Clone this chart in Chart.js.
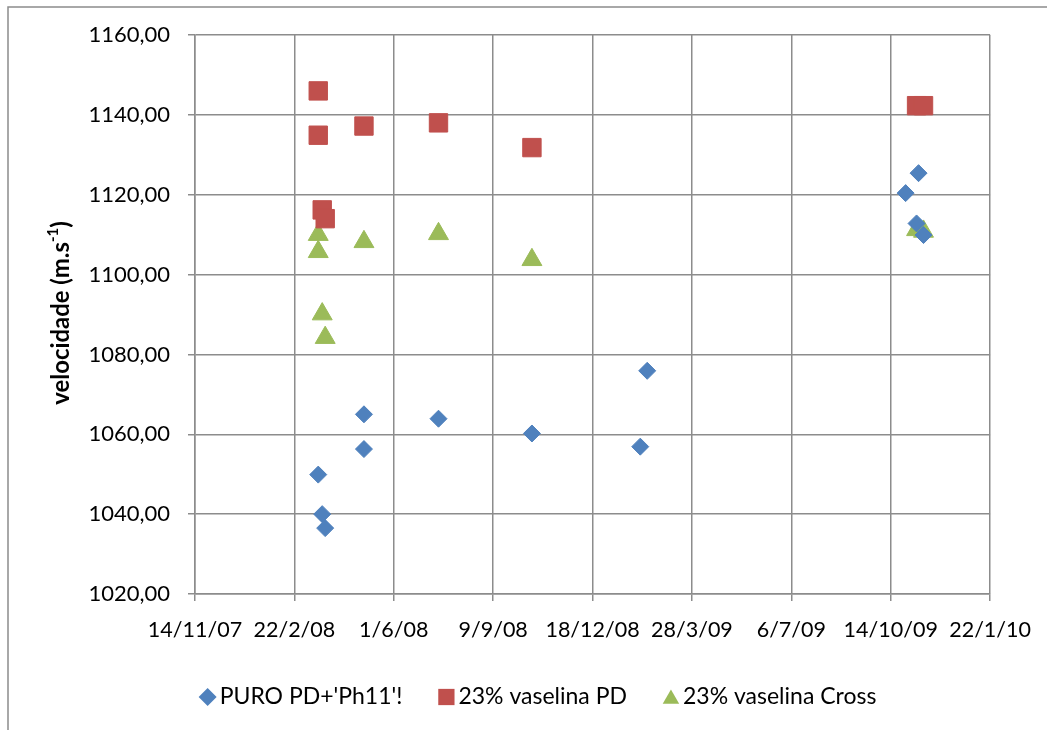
<!DOCTYPE html>
<html>
<head>
<meta charset="utf-8">
<script src="https://cdn.jsdelivr.net/npm/chart.js@4.4.1/dist/chart.umd.min.js"></script>
<style>
  html, body { margin: 0; padding: 0; background: #fff; }
  #wrap { width: 1047px; height: 730px; position: relative; }
</style>
</head>
<body>
<div id="wrap"><canvas id="chart"></canvas></div>
<script>
// dates are Excel serial day numbers (39400 = 14/11/07)
const seriesNames = ["PURO PD+'Ph11'!", "23% vaselina PD", "23% vaselina Cross"];

const puroDates = [39524, 39528, 39531, 39570, 39570, 39645, 39739, 39848, 39855, 40115, 40128, 40126, 40133];
const puroValues = [1049.9, 1040.0, 1036.5, 1065.0, 1056.3, 1063.9, 1060.2, 1056.9, 1075.9, 1120.4, 1125.4, 1112.8, 1109.9];

const vasPdDates = [39524, 39524, 39528, 39531, 39570, 39645, 39739, 40126, 40133];
const vasPdValues = [1146.0, 1134.9, 1116.2, 1114.0, 1137.2, 1138.0, 1131.8, 1142.3, 1142.3];

const vasCrossDates = [39524, 39524, 39528, 39531, 39570, 39645, 39739, 40126, 40133];
const vasCrossValues = [1110.0, 1105.7, 1090.1, 1084.2, 1108.2, 1110.2, 1103.7, 1111.2, 1110.8];

const xTicks = [39400, 39500, 39600, 39700, 39800, 39900, 40000, 40100, 40200];
const yTicks = [1020, 1040, 1060, 1080, 1100, 1120, 1140, 1160];

const FONT = "Lato, 'Liberation Sans', sans-serif";
const GRID = '#8c8c8c';

function toPoints(xs, ys) {
  return xs.map((x, i) => ({ x: x, y: ys[i] }));
}

function serialToLabel(serial) {
  const d = new Date(Date.UTC(1899, 11, 30) + serial * 86400000);
  const yy = String(d.getUTCFullYear() % 100).padStart(2, '0');
  return d.getUTCDate() + '/' + (d.getUTCMonth() + 1) + '/' + yy;
}

// legend markers are a bit smaller than the plot markers
const legendMarkers = [
  { style: 'rectRot', radius: 9 },
  { style: 'rect', radius: 11.5 },
  { style: 'triangle', radius: 9.5 }
];

// outer frame, rotated y title (with superscript) and the legend row
const decorations = {
  id: 'decorations',
  beforeDraw(chart) {
    const ctx = chart.ctx;
    ctx.save();
    ctx.fillStyle = '#fff';
    ctx.fillRect(0, 0, chart.width, chart.height);
    ctx.strokeStyle = GRID;
    ctx.lineWidth = 1.5;
    ctx.strokeRect(8, 7, 1200, 900);
    ctx.restore();
  },
  afterDraw(chart) {
    const ctx = chart.ctx;

    // y title, sized to the length it has in the original
    ctx.save();
    ctx.translate(61, 313);
    ctx.rotate(-Math.PI / 2);
    ctx.fillStyle = '#000';
    ctx.textBaseline = 'middle';
    const a = 'velocidade (m.s', b = '-1', c = ')';
    const measure = (size) => {
      ctx.font = 'bold ' + size + 'px ' + FONT;
      const wa = ctx.measureText(a).width, wc = ctx.measureText(c).width;
      ctx.font = 'bold ' + Math.round(size * 0.62) + 'px ' + FONT;
      const wb = ctx.measureText(b).width;
      return { wa, wb, wc, total: wa + wb + wc };
    };
    const size = 20 * 183 / measure(20).total;
    const m = measure(size);
    let x = -m.total / 2;
    ctx.font = 'bold ' + size + 'px ' + FONT;
    ctx.fillText(a, x, 0);
    x += m.wa;
    ctx.font = 'bold ' + Math.round(size * 0.62) + 'px ' + FONT;
    ctx.fillText(b, x, -size * 0.33);
    x += m.wb;
    ctx.font = 'bold ' + size + 'px ' + FONT;
    ctx.fillText(c, x, 0);
    ctx.restore();

    // legend
    ctx.save();
    ctx.font = '23px ' + FONT;
    ctx.textBaseline = 'middle';
    const ds = chart.data.datasets;
    const gapText = 12, gapItem = 44, lead = 9;
    const widths = ds.map(d => ctx.measureText(d.label).width);
    let total = lead;
    widths.forEach((w, i) => { total += gapText + w + (i < widths.length - 1 ? gapItem : 0); });
    let cx = 537.5 - total / 2 + lead;
    const y = 697;
    ds.forEach((d, i) => {
      ctx.fillStyle = d.backgroundColor;
      ctx.strokeStyle = d.borderColor;
      Chart.helpers.drawPoint(ctx, {
        pointStyle: legendMarkers[i].style,
        radius: legendMarkers[i].radius,
        rotation: 0,
        borderWidth: 0
      }, cx, legendMarkers[i].style === 'triangle' ? y + 2 : y);
      ctx.fillStyle = '#000';
      ctx.fillText(d.label, cx + gapText, y);
      cx += gapText + widths[i] + gapItem;
    });
    ctx.restore();
  }
};

new Chart(document.getElementById('chart'), {
  type: 'scatter',
  data: {
    datasets: [
      {
        label: seriesNames[0],
        data: toPoints(puroDates, puroValues),
        pointStyle: 'rectRot',
        pointRadius: 8.5,
        backgroundColor: '#4f81bd',
        borderColor: '#4f81bd',
        borderWidth: 1
      },
      {
        label: seriesNames[1],
        data: toPoints(vasPdDates, vasPdValues),
        pointStyle: 'rect',
        pointRadius: 13,
        backgroundColor: '#c0504d',
        borderColor: '#c0504d',
        borderWidth: 1
      },
      {
        label: seriesNames[2],
        data: toPoints(vasCrossDates, vasCrossValues),
        pointStyle: 'triangle',
        pointRadius: 11.5,
        backgroundColor: '#9bbb59',
        borderColor: '#9bbb59',
        borderWidth: 1
      }
    ]
  },
  options: {
    responsive: true,
    maintainAspectRatio: false,
    animation: false,
    layout: { padding: { left: 0, top: 35, right: 55, bottom: 0 } },
    scales: {
      x: {
        type: 'linear',
        min: xTicks[0],
        max: xTicks[xTicks.length - 1],
        afterBuildTicks: (scale) => { scale.ticks = xTicks.map(v => ({ value: v })); },
        afterFit: (scale) => { scale.height = 136; },
        ticks: {
          color: '#000',
          padding: 16,
          maxRotation: 0,
          font: { family: FONT, size: 21.5 },
          callback: (v) => serialToLabel(v)
        },
        grid: { color: GRID, lineWidth: 1.5, tickLength: 7 },
        border: { color: GRID, width: 1.5 }
      },
      y: {
        min: yTicks[0],
        max: yTicks[yTicks.length - 1],
        afterBuildTicks: (scale) => { scale.ticks = yTicks.map(v => ({ value: v })); },
        afterFit: (scale) => { scale.width = 195; },
        ticks: {
          color: '#000',
          padding: 18,
          font: { family: FONT, size: 22 },
          callback: (v) => v.toFixed(2).replace('.', ',')
        },
        grid: { color: GRID, lineWidth: 1.5, tickLength: 7 },
        border: { color: GRID, width: 1.5 }
      }
    },
    plugins: {
      legend: { display: false },
      tooltip: { enabled: false }
    }
  },
  plugins: [decorations]
});
</script>
</body>
</html>
